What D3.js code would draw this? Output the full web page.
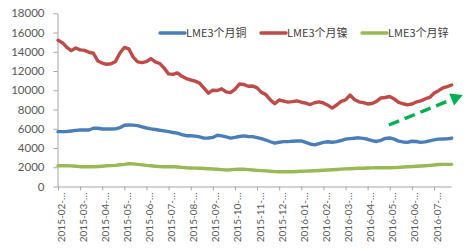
<!DOCTYPE html>
<html>
<head>
<meta charset="utf-8">
<script src="https://cdn.jsdelivr.net/npm/d3@7"></script>
<style>
  body { margin: 0; background: #fff; }
  svg { display: block; }
  .axis text { font-family: Lato, "Noto Sans CJK SC", sans-serif; fill: #595959; }
  .axis path, .axis line { stroke: #a6a6a6; }
  .legend text { font-family: "Noto Sans CJK SC", sans-serif; font-size: 11px; fill: #404040; }
</style>
</head>
<body>
<svg class="chart" width="471" height="251"></svg>
<script>
// month labels on the category axis (one every 5 samples)
const xLabels = ["2015-02-…", "2015-03-…", "2015-04-…", "2015-05-…", "2015-06-…", "2015-07-…",
  "2015-08-…", "2015-09-…", "2015-10-…", "2015-11-…", "2015-12-…", "2016-01-…",
  "2016-02-…", "2016-03-…", "2016-04-…", "2016-05-…", "2016-06-…", "2016-07-…"];
const yTicks = [0, 2000, 4000, 6000, 8000, 10000, 12000, 14000, 16000, 18000];
const seriesNames = ["LME3个月铜", "LME3个月镍", "LME3个月锌"];
const seriesColors = ["#4a7ebb", "#be4b48", "#98b954"];

// values, roughly weekly
const copper = [5700, 5700, 5720, 5770, 5830, 5870, 5870, 5870, 6050, 6050,
  5980, 5980, 5980, 5990, 6110, 6360, 6390, 6380, 6330, 6200,
  6080, 5990, 5920, 5850, 5780, 5700, 5610, 5540, 5400, 5280,
  5280, 5230, 5160, 5030, 5040, 5100, 5320, 5260, 5150, 5030,
  5100, 5200, 5260, 5200, 5180, 5070, 4970, 4830, 4650, 4500,
  4600, 4660, 4660, 4710, 4730, 4730, 4580, 4420, 4330, 4460,
  4580, 4650, 4600, 4660, 4780, 4920, 4980, 5020, 5060, 5000,
  4910, 4770, 4680, 4800, 5000, 5040, 4920, 4720, 4630, 4590,
  4700, 4680, 4590, 4640, 4740, 4850, 4920, 4940, 4950, 5010];
const nickel = [15200, 14950, 14450, 14120, 14400, 14200, 14150, 13950, 13850, 13050,
  12830, 12700, 12760, 13000, 13880, 14450, 14300, 13450, 12950, 12870,
  12970, 13300, 12950, 12780, 12300, 11700, 11650, 11800, 11450, 11220,
  11070, 10950, 10740, 10220, 9700, 10010, 9980, 10150, 9830, 9760,
  10100, 10650, 10600, 10420, 10450, 10250, 9780, 9550, 9000, 8600,
  8990, 8880, 8770, 8820, 8890, 8760, 8670, 8520, 8700, 8790,
  8680, 8450, 8150, 8470, 8850, 9000, 9500, 9050, 8800, 8710,
  8580, 8630, 8850, 9200, 9250, 9350, 9100, 8750, 8600, 8480,
  8570, 8790, 8900, 9100, 9260, 9700, 9960, 10240, 10380, 10550];
const zinc = [2160, 2160, 2160, 2140, 2100, 2060, 2060, 2060, 2060, 2080,
  2110, 2150, 2170, 2200, 2260, 2300, 2360, 2350, 2300, 2250,
  2190, 2150, 2110, 2070, 2060, 2060, 2060, 2030, 1990, 1950,
  1930, 1910, 1890, 1870, 1850, 1820, 1790, 1750, 1720, 1740,
  1780, 1810, 1790, 1750, 1710, 1680, 1650, 1620, 1590, 1550,
  1540, 1540, 1540, 1540, 1560, 1580, 1600, 1610, 1630, 1660,
  1690, 1710, 1740, 1770, 1810, 1830, 1850, 1870, 1890, 1900,
  1920, 1940, 1950, 1950, 1950, 1950, 1960, 1990, 2020, 2050,
  2070, 2100, 2130, 2160, 2200, 2240, 2280, 2300, 2300, 2300];

// trend arrow annotation: [sample index, value]
const arrowFrom = [74.8, 6390];
const arrowTo = [91.5, 9510];

const svg = d3.select(".chart");
const plotLeft = 57.5, plotRight = 451.7, plotTop = 13.3, plotBottom = 186.5;

const x = d3.scaleLinear().domain([0, copper.length - 1]).range([plotLeft + 0.5, plotRight]);
const y = d3.scaleLinear().domain([0, 18000]).range([plotBottom, plotTop]);

// y axis
svg.append("g")
  .attr("class", "axis")
  .attr("transform", `translate(${plotLeft},0)`)
  .call(d3.axisLeft(y).tickValues(yTicks).tickFormat(d3.format("d"))
    .tickSize(4).tickPadding(9).tickSizeOuter(0))
  .call(g => g.selectAll("text").style("font-size", "11.5px"));

// x axis
const tickIdx = xLabels.map((d, i) => i * 5);
const xAxis = svg.append("g")
  .attr("class", "axis")
  .attr("transform", `translate(0,${plotBottom})`)
  .call(d3.axisBottom(x).tickValues(tickIdx).tickSize(4).tickSizeOuter(0)
    .tickFormat((d, i) => xLabels[i]));
xAxis.select(".domain").attr("d", `M${plotLeft},0.5H${plotRight}`);
xAxis.selectAll("text")
  .style("font-size", "10px")
  .attr("text-anchor", "end")
  .attr("transform", "rotate(-90)")
  .attr("x", -6)
  .attr("y", 0)
  .attr("dy", "0.6em");

// lines
const line = d3.line().x((d, i) => x(i)).y(d => y(d));
const series = [copper, nickel, zinc];
svg.append("g").selectAll("path")
  .data(series)
  .join("path")
  .attr("d", line)
  .attr("fill", "none")
  .attr("stroke", (d, i) => seriesColors[i])
  .attr("stroke-width", 3.4)
  .attr("stroke-linejoin", "round")
  .attr("stroke-linecap", "round");

// legend
const legendX = [160, 261, 362];
const legend = svg.append("g").attr("class", "legend")
  .selectAll("g")
  .data(seriesNames)
  .join("g")
  .attr("transform", (d, i) => `translate(${legendX[i]},33)`);
legend.append("line")
  .attr("x1", 0).attr("x2", 25)
  .attr("stroke", (d, i) => seriesColors[i])
  .attr("stroke-width", 3.4)
  .attr("stroke-linecap", "round");
legend.append("text")
  .attr("x", 26)
  .attr("dy", "0.35em")
  .text(d => d);

// dashed green trend arrow
const ax0 = x(arrowFrom[0]), ay0 = y(arrowFrom[1]);
const ax1 = x(arrowTo[0]), ay1 = y(arrowTo[1]);
const ang = Math.atan2(ay1 - ay0, ax1 - ax0);
const headLen = 12, headW = 6.5;
const bx = ax1 - headLen * Math.cos(ang), by = ay1 - headLen * Math.sin(ang);
svg.append("line")
  .attr("x1", ax0).attr("y1", ay0)
  .attr("x2", bx).attr("y2", by)
  .attr("stroke", "#00b050")
  .attr("stroke-width", 3.4)
  .attr("stroke-dasharray", "11,6");
svg.append("path")
  .attr("d", `M${ax1},${ay1}L${bx + headW * Math.sin(ang)},${by - headW * Math.cos(ang)}L${bx - headW * Math.sin(ang)},${by + headW * Math.cos(ang)}Z`)
  .attr("fill", "#00b050");
</script>
</body>
</html>
